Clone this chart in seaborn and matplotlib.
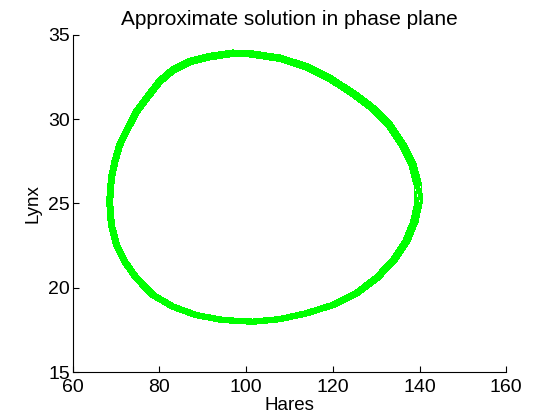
import numpy as np
import pandas as pd
import matplotlib
matplotlib.use("Agg")
import matplotlib.pyplot as plt
import seaborn as sns

# one orbit of the phase-plane solution (hares, lynx)
hares = [100.8, 107.7, 113.8, 119.2, 124.6, 129.2, 133.0, 136.1, 138.4, 139.6,
         139.8, 138.8, 136.9, 133.8, 130.0, 125.4, 120.0, 113.8, 107.7, 101.5,
         94.6, 88.5, 83.1, 78.5, 74.7, 72.0, 70.1, 68.9, 68.5, 68.9,
         69.7, 70.8, 72.7, 74.7, 77.0, 80.0, 83.1, 87.0, 91.6, 96.9, 100.8]
lynx = [33.88, 33.62, 33.12, 32.43, 31.54, 30.65, 29.66, 28.47, 27.28, 26.10,
        25.10, 23.92, 22.73, 21.55, 20.56, 19.67, 18.98, 18.48, 18.14, 17.99,
        18.09, 18.38, 18.88, 19.57, 20.56, 21.55, 22.54, 23.72, 25.10, 26.50,
        27.48, 28.47, 29.46, 30.45, 31.24, 32.23, 32.92, 33.42, 33.71, 33.91, 33.88]
# the orbit drifts a little each cycle: relative size of each loop
loop_scale = [1.02, 1.01, 1.0, 0.99, 0.98]
center = (100.0, 25.0)

rows = []
for i, s in enumerate(loop_scale):
    for h, l in zip(hares, lynx):
        rows.append({"loop": i,
                     "Hares": center[0] + s * (h - center[0]),
                     "Lynx": center[1] + s * (l - center[1])})
df = pd.DataFrame(rows)

sns.set_style("ticks")
plt.rcParams["font.family"] = ["Liberation Sans", "DejaVu Sans"]
plt.rcParams["text.color"] = "black"
plt.rcParams["axes.labelcolor"] = "black"
plt.rcParams["xtick.color"] = "black"
plt.rcParams["ytick.color"] = "black"

fig = plt.figure(figsize=(5.6, 4.2), dpi=100)
ax = fig.add_axes([0.13, 0.114, 0.774, 0.803])

sns.lineplot(data=df, x="Hares", y="Lynx", units="loop", estimator=None,
             sort=False, color="#00ff00", linewidth=0.4, antialiased=False, ax=ax)

ax.set_xlim(60, 160)
ax.set_ylim(15, 35)
ax.set_xticks([60, 80, 100, 120, 140, 160])
ax.set_yticks([15, 20, 25, 30, 35])
ax.tick_params(direction="in", length=4, width=0.8, labelsize=14)
ax.tick_params(axis="x", pad=5)
ax.tick_params(axis="y", pad=2)
for side in ["top", "right"]:
    ax.spines[side].set_visible(False)
for side in ["left", "bottom"]:
    ax.spines[side].set_color("black")
    ax.spines[side].set_linewidth(0.8)

ax.set_xlabel("Hares", fontsize=13.5, labelpad=1)
ax.set_ylabel("Lynx", fontsize=13.5, labelpad=5)
ax.set_title("Approximate solution in phase plane", fontsize=15, pad=7)

fig.savefig("out.png", dpi=100)
